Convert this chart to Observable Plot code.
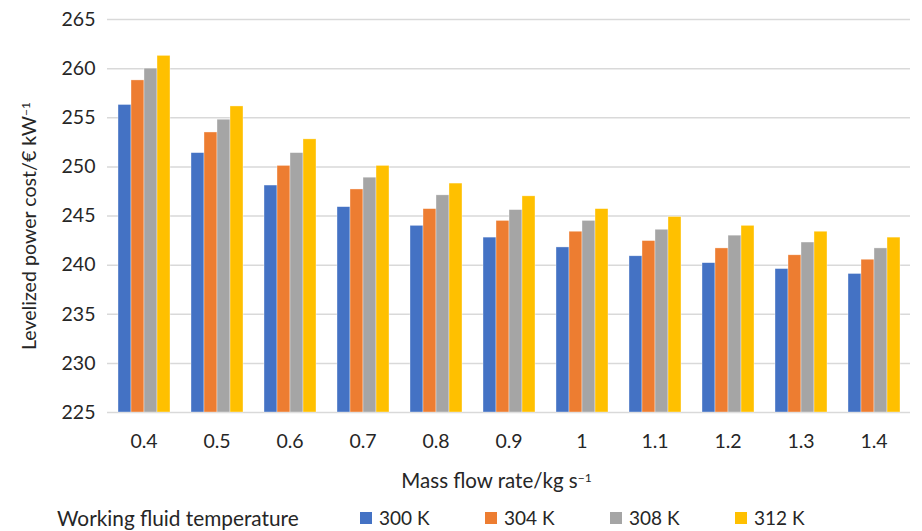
<!DOCTYPE html>
<html>
<head>
<meta charset="utf-8">
<script src="https://cdn.jsdelivr.net/npm/d3@7"></script>
<script src="https://cdn.jsdelivr.net/npm/@observablehq/plot@0.6"></script>
<style>
  html, body { margin: 0; padding: 0; background: #fff; }
  body { width: 922px; height: 531px; overflow: hidden; font-family: Lato, "Open Sans", sans-serif; color: #262626; position: relative; }
  #chart { position: absolute; left: 0; top: 0; }
  #ylabel { position: absolute; left: 27px; top: 226px; transform: translate(-50%, -50%) rotate(-90deg); white-space: nowrap; font-size: 19.6px; line-height: 24px; }
  #ylabel sup, #xlabel sup { font-size: 12px; vertical-align: 6px; }
  #xlabel { position: absolute; left: 0; width: 922px; top: 466px; text-align: center; font-size: 20.5px; line-height: 24px; padding-left: 71px; box-sizing: border-box; }
  #legend { position: absolute; top: 506px; left: 57px; display: flex; align-items: center; font-size: 20.8px; line-height: 24px; }
  #legend .title { width: 303px; }
  #legend .item { display: flex; align-items: center; width: 125px; font-size: 19px; }
  #legend .sw { width: 12px; height: 12px; margin-right: 7px; }
</style>
</head>
<body>
<div id="chart"></div>
<div id="ylabel"></div>
<div id="xlabel"></div>
<div id="legend"></div>
<script>
const categories = ["0.4", "0.5", "0.6", "0.7", "0.8", "0.9", "1", "1.1", "1.2", "1.3", "1.4"];
const series = ["300 K", "304 K", "308 K", "312 K"];
const v300 = [256.3, 251.4, 248.1, 245.9, 244.0, 242.8, 241.8, 240.9, 240.2, 239.6, 239.1];
const v304 = [258.8, 253.5, 250.1, 247.7, 245.7, 244.5, 243.4, 242.45, 241.7, 241.0, 240.55];
const v308 = [260.0, 254.8, 251.4, 248.9, 247.1, 245.6, 244.5, 243.6, 243.0, 242.3, 241.7];
const v312 = [261.3, 256.15, 252.8, 250.1, 248.3, 247.0, 245.7, 244.9, 244.0, 243.4, 242.8];
const colors = ["#4472C4", "#ED7D31", "#A5A5A5", "#FFC000"];
const yTicks = [225, 230, 235, 240, 245, 250, 255, 260, 265];
const yTitle = ["Levelized power cost/€ kW", "−1"];
const xTitle = ["Mass flow rate/kg s", "−1"];
const legendTitle = "Working fluid temperature";

const seriesValues = [v300, v304, v308, v312];
const rows = categories.flatMap((c, i) => series.map((s, j) => ({mass: c, temp: s, value: seriesValues[j][i]})));
const baseline = yTicks[0];

const chart = Plot.plot({
  width: 922,
  height: 460,
  marginLeft: 103,
  marginRight: 9,
  marginTop: 19,
  marginBottom: 48,
  style: {fontFamily: "Lato, 'Open Sans', sans-serif", fontSize: "19.5px", color: "#262626", background: "white"},
  facet: {data: rows, x: "mass"},
  fx: {domain: categories, padding: 0, label: null, tickSize: 0, tickPadding: 22},
  x: {domain: series, axis: null, paddingInner: 0, paddingOuter: 0.76},
  y: {domain: [yTicks[0], yTicks[yTicks.length - 1]], ticks: yTicks, tickSize: 0, tickPadding: 12, label: null},
  color: {domain: series, range: colors},
  marks: [
    Plot.ruleY(yTicks, {stroke: "#d9d9d9", strokeWidth: 1.5}),
    Plot.barY(rows, {x: "temp", y1: baseline, y2: "value", fill: "temp", stroke: "white", strokeWidth: 0.6, strokeOpacity: 0.6})
  ]
});
document.getElementById("chart").appendChild(chart);

function setSup(el, parts) {
  el.textContent = parts[0];
  const sup = document.createElement("sup");
  sup.textContent = parts[1];
  el.appendChild(sup);
}
setSup(document.getElementById("ylabel"), yTitle);
setSup(document.getElementById("xlabel"), xTitle);

const legend = document.getElementById("legend");
const t = document.createElement("span");
t.className = "title";
t.textContent = legendTitle;
legend.appendChild(t);
series.forEach((s, i) => {
  const item = document.createElement("span");
  item.className = "item";
  const sw = document.createElement("span");
  sw.className = "sw";
  sw.style.background = colors[i];
  const lab = document.createElement("span");
  lab.textContent = s;
  item.appendChild(sw);
  item.appendChild(lab);
  legend.appendChild(item);
});
</script>
</body>
</html>
